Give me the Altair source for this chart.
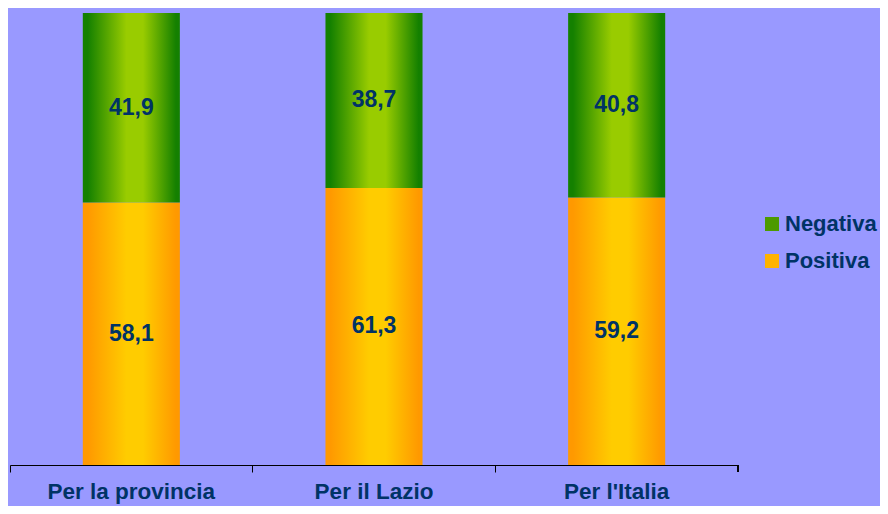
import altair as alt
import pandas as pd

categories = ["Per la provincia", "Per il Lazio", "Per l'Italia"]
positiva = [58.1, 61.3, 59.2]
negativa = [41.9, 38.7, 40.8]
series = ["Negativa", "Positiva"]

rows = []
for c, p, n in zip(categories, positiva, negativa):
    rows.append({"cat": c, "series": "Positiva", "start": 0, "end": p, "mid": p / 2,
                 "label": f"{p:.1f}".replace(".", ",")})
    rows.append({"cat": c, "series": "Negativa", "start": p, "end": p + n, "mid": p + n / 2,
                 "label": f"{n:.1f}".replace(".", ",")})
df = pd.DataFrame(rows)

FONT = "Liberation Sans"
NAVY = "#003366"


def grad(dark, light):
    return alt.LinearGradient(
        gradient="linear", x1=0, x2=1, y1=0, y2=0,
        stops=[alt.GradientStop(offset=0, color=dark),
               alt.GradientStop(offset=0.05, color=dark),
               alt.GradientStop(offset=0.45, color=light),
               alt.GradientStop(offset=0.62, color=light),
               alt.GradientStop(offset=0.96, color=dark),
               alt.GradientStop(offset=1, color=dark)])


green_grad = grad("#148000", "#99cc00")
orange_grad = grad("#ff9900", "#ffcc00")

x_enc = alt.X("cat:N", sort=categories, title=None,
              scale=alt.Scale(paddingInner=0, paddingOuter=0),
              axis=alt.Axis(labelAngle=0, bandPosition=0, domainColor="black",
                            tickColor="black", tickSize=7, labelPadding=8,
                            labelFont=FONT, labelFontSize=22.5, labelFontWeight="bold",
                            labelColor=NAVY, grid=False))
y_scale = alt.Scale(domain=[0, 100], nice=False, zero=True)

base = alt.Chart(df)

pos = base.transform_filter(alt.datum.series == "Positiva").mark_bar(
    fill=orange_grad, width=alt.RelativeBandSize(0.4)).encode(
    x=x_enc, y=alt.Y("start:Q", scale=y_scale, axis=None), y2="end:Q")
neg = base.transform_filter(alt.datum.series == "Negativa").mark_bar(
    fill=green_grad, width=alt.RelativeBandSize(0.4)).encode(
    x=x_enc, y=alt.Y("start:Q", scale=y_scale, axis=None), y2="end:Q")

text = base.mark_text(font=FONT, fontSize=23, fontWeight="bold", color=NAVY).encode(
    x=x_enc, y=alt.Y("mid:Q", scale=y_scale, axis=None), text="label:N")

legend_layer = base.mark_square(opacity=0).encode(
    x=x_enc, y=alt.Y("mid:Q", scale=y_scale, axis=None),
    color=alt.Color("series:N",
                    scale=alt.Scale(domain=series, range=["#4c9a00", "#ffb300"]),
                    legend=alt.Legend(title=None, orient="none", legendX=751, legendY=200,
                                      labelFont=FONT, labelFontSize=22, labelFontWeight="bold",
                                      labelColor=NAVY, symbolType="square", symbolSize=196,
                                      symbolOpacity=1, symbolStrokeWidth=0, labelOffset=2,
                                      rowPadding=15)))

end_tick = alt.Chart(df).mark_rule(color="black", strokeWidth=1).encode(
    x=alt.value(728), y=alt.value(452), y2=alt.value(459))

chart = alt.layer(pos, neg, text, legend_layer, end_tick).properties(
    width=728, height=452, background="#9999ff",
    padding={"left": 2, "top": 5, "right": 142, "bottom": 41},
    autosize=alt.AutoSizeParams(type="none"),
).configure_view(stroke=None)

chart.save("out.html", embed_options={"renderer": "svg", "actions": False})
